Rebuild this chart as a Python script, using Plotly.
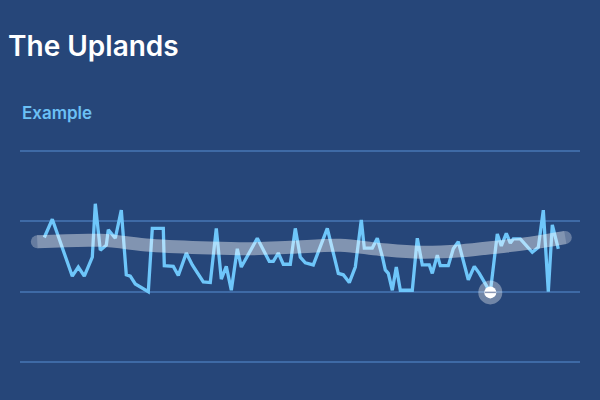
import plotly.graph_objects as go

# --- data ---
x_vals = [0, 8, 28, 34, 40, 48, 51, 56, 62, 64, 71, 77, 82, 86, 91, 104, 108, 119, 120, 129,
          134, 142, 148, 153, 159, 166, 172, 177, 182, 187, 193, 197, 213, 225, 229, 234, 239,
          246, 251, 256, 261, 269, 283, 294, 299, 305, 311, 317, 320, 328, 333, 338, 341, 344,
          348, 352, 356, 368, 373, 378, 385, 388, 393, 396, 404, 409, 414, 424, 430, 435, 446,
          453, 457, 462, 466, 469, 476, 488, 494, 499, 504, 508, 514]
y_vals = [17.7, 20.3, 12.2, 13.5, 12.2, 14.9, 22.5, 15.9, 16.6, 18.8, 17.6, 21.6, 12.4, 12.2,
          11.1, 10.0, 19.0, 19.0, 13.7, 13.6, 12.3, 15.5, 13.8, 12.7, 11.4, 11.3, 19.0, 11.8,
          13.6, 10.2, 16.1, 13.5, 17.6, 14.3, 14.3, 15.5, 13.9, 13.9, 19.0, 14.9, 14.1, 13.8,
          19.0, 12.6, 12.4, 11.3, 13.5, 20.2, 16.2, 16.2, 17.6, 15.0, 13.1, 12.6, 10.2, 13.5,
          10.2, 10.2, 17.6, 13.8, 13.8, 12.6, 15.2, 13.7, 13.7, 16.1, 17.1, 11.7, 13.6, 12.6,
          9.9, 18.2, 16.5, 18.3, 16.9, 17.5, 17.5, 15.6, 16.3, 21.6, 10.0, 19.5, 16.1]

trend_x = [-7, 56, 106, 166, 206, 246, 296, 336, 376, 416, 456, 486, 521]
trend_y = [17.1, 17.3, 16.6, 16.2, 16.1, 16.3, 16.6, 16.0, 15.6, 15.8, 16.4, 16.9, 17.7]

grid_vals = [0, 10, 20, 30]
title_text = "The Uplands"
subtitle_text = "Example"

BG = "#264679"
min_i = y_vals.index(min(y_vals))

fig = go.Figure()

fig.add_trace(go.Scatter(
    x=x_vals, y=y_vals, mode="lines",
    line=dict(color="#6ec6fa", width=3.3), hoverinfo="skip"))

n = len(trend_x)
fig.add_trace(go.Scatter(
    x=trend_x, y=trend_y, mode="lines+markers",
    line=dict(color="white", width=13, shape="spline", smoothing=1.0),
    marker=dict(color="white", size=[13] + [0] * (n - 2) + [13], line=dict(width=0)),
    opacity=0.42, hoverinfo="skip"))

# highlighted minimum
fig.add_trace(go.Scatter(
    x=[x_vals[min_i]], y=[y_vals[min_i]], mode="markers",
    marker=dict(color="rgba(255,255,255,0.35)", size=24, line=dict(width=0)),
    hoverinfo="skip"))
fig.add_trace(go.Scatter(
    x=[x_vals[min_i]], y=[y_vals[min_i]], mode="markers",
    marker=dict(color="white", size=12, line=dict(width=0)),
    hoverinfo="skip"))
fig.add_trace(go.Scatter(
    x=[x_vals[min_i]], y=[y_vals[min_i]], mode="markers",
    marker=dict(symbol="line-ew", color="#8a98b6", size=8, line=dict(color="#8a98b6", width=1.5)),
    hoverinfo="skip"))

fig.update_layout(
    width=600, height=400,
    paper_bgcolor=BG, plot_bgcolor=BG,
    margin=dict(l=20, r=20, t=130, b=20),
    showlegend=False,
    font=dict(family="Inter, sans-serif"),
    title=dict(text=title_text, x=8 / 600, xanchor="left", xref="container",
               y=1 - 46 / 400, yanchor="middle", yref="container",
               font=dict(size=28, color="white", family="Inter", weight=600)),
    xaxis=dict(range=[-24.3, 535.7], showgrid=False, zeroline=False,
               showticklabels=False, showline=False, fixedrange=True),
    yaxis=dict(range=[-2.56, 32.99], tickvals=grid_vals, showgrid=True,
               gridcolor="#3e6aa6", gridwidth=1.5, zeroline=False,
               showticklabels=False, showline=False, fixedrange=True),
    annotations=[dict(text=subtitle_text, xref="paper", yref="paper",
                      x=0, y=(380 - 113) / 250, xanchor="left", yanchor="middle",
                      showarrow=False,
                      font=dict(size=17, color="#6cc0f5", family="Inter", weight=600))],
)

fig.write_html("out.html", config={"displayModeBar": False},
               post_script="document.body.style.margin='0';document.body.style.overflow='hidden';")
